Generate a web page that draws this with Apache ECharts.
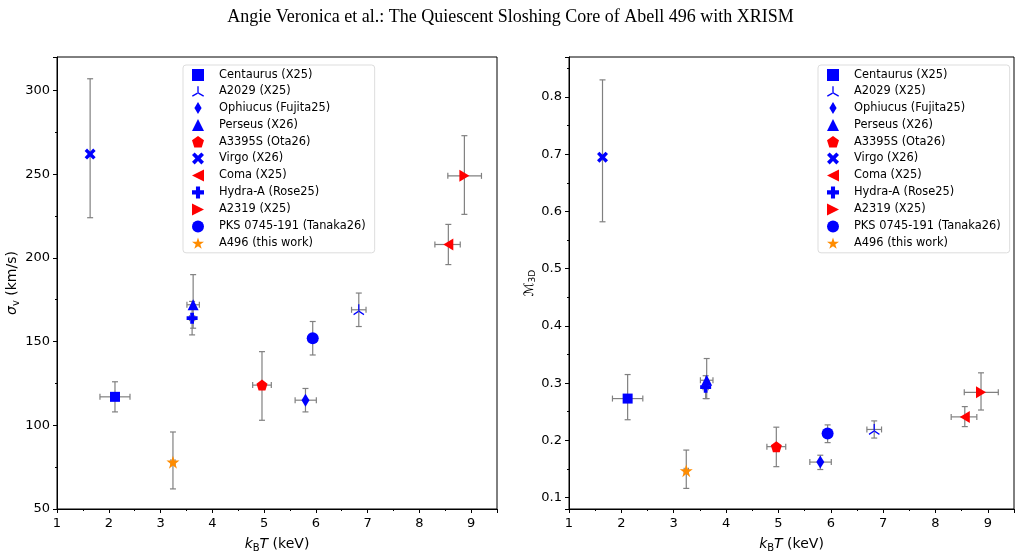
<!DOCTYPE html>
<html>
<head>
<meta charset="utf-8">
<script src="https://cdn.jsdelivr.net/npm/echarts@6/dist/echarts.min.js"></script>
<style>
  html, body { margin: 0; padding: 0; background: #fff; }
  #chart { width: 1021px; height: 555px; }
</style>
</head>
<body>
<div id="chart"></div>
<script>
// cluster labels and marker styles
const names = ['Centaurus (X25)', 'A2029 (X25)', 'Ophiucus (Fujita25)', 'Perseus (X26)', 'A3395S (Ota26)',
  'Virgo (X26)', 'Coma (X25)', 'Hydra-A (Rose25)', 'A2319 (X25)', 'PKS 0745-191 (Tanaka26)', 'A496 (this work)']
const colors = ['#0000ff', '#0000ff', '#0000ff', '#0000ff', '#ff0000',
  '#0000ff', '#ff0000', '#0000ff', '#ff0000', '#0000ff', '#ff8c00']

// temperature (keV) with errors
const kT = [2.12, 6.83, 5.80, 3.63, 4.96, 1.64, 8.56, 3.61, 8.87, 5.94, 3.24]
const kTErrLo = [0.29, 0.14, 0.20, 0.12, 0.18, 0.02, 0.26, 0.05, 0.32, 0.05, 0.04]
const kTErrHi = [0.29, 0.14, 0.21, 0.12, 0.18, 0.02, 0.23, 0.05, 0.33, 0.05, 0.04]

// velocity dispersion (km/s)
const sigma = [117, 169, 115, 172, 124, 262, 208, 164, 249, 152, 78]
const sigmaErrLo = [9, 10, 7, 14, 21, 38, 12, 10, 23, 10, 16]
const sigmaErrHi = [9, 10, 7, 18, 20, 45, 12, 10, 24, 10, 18]

// 3D Mach number
const mach = [0.273, 0.219, 0.162, 0.305, 0.189, 0.695, 0.241, 0.293, 0.284, 0.212, 0.147]
const machErrLo = [0.037, 0.015, 0.013, 0.032, 0.035, 0.113, 0.017, 0.020, 0.031, 0.016, 0.031]
const machErrHi = [0.042, 0.015, 0.012, 0.038, 0.034, 0.135, 0.018, 0.020, 0.034, 0.015, 0.036]

const FONT = 'DejaVu Sans'
const ERR = '#808080'

const triUp = 'path://M45,0 L55,0 L55,50 L45,50 Z M52.5,54.3 L47.5,45.7 L4.2,70.7 L9.2,79.3 Z M47.5,54.3 L52.5,45.7 L95.8,70.7 L90.8,79.3 Z'
const symbols = [
  'rect',
  triUp,
  'path://M30,0 L60,50 L30,100 L0,50 Z',
  'triangle',
  'path://M50,0 L97.55,34.55 L79.39,90.45 L20.61,90.45 L2.45,34.55 Z',
  'path://M0,22 L22,0 L50,28 L78,0 L100,22 L72,50 L100,78 L78,100 L50,72 L22,100 L0,78 L28,50 Z',
  'path://M0,50 L100,0 L100,100 Z',
  'path://M33,0 L67,0 L67,33 L100,33 L100,67 L67,67 L67,100 L33,100 L33,67 L0,67 L0,33 L33,33 Z',
  'path://M100,50 L0,0 L0,100 Z',
  'circle',
  'path://M50,0 L61.23,34.55 L97.55,34.55 L68.17,55.9 L79.39,90.45 L50,69.1 L20.61,90.45 L31.83,55.9 L2.45,34.55 L38.77,34.55 Z'
]
const sizes = [10, 11, [8, 13], 11, 11, 11, [10, 12], 11, [10, 12], 12, 13]

let myChart = echarts.init(document.getElementById('chart'), null, { renderer: 'canvas' })

function errRows(y, yLo, yHi) {
  return kT.map((x, i) => [x, y[i], x - kTErrLo[i], x + kTErrHi[i], y[i] - yLo[i], y[i] + yHi[i]])
}

function renderErr(params, api) {
  const c = api.coord([api.value(0), api.value(1)])
  const xl = api.coord([api.value(2), api.value(1)])
  const xh = api.coord([api.value(3), api.value(1)])
  const yl = api.coord([api.value(0), api.value(4)])
  const yh = api.coord([api.value(0), api.value(5)])
  const cap = 3
  const st = { stroke: ERR, lineWidth: 1.2 }
  const L = (x1, y1, x2, y2) => ({ type: 'line', shape: { x1, y1, x2, y2 }, style: st })
  return {
    type: 'group',
    children: [
      L(xl[0], c[1], xh[0], c[1]),
      L(xl[0], c[1] - cap, xl[0], c[1] + cap),
      L(xh[0], c[1] - cap, xh[0], c[1] + cap),
      L(c[0], yl[1], c[0], yh[1]),
      L(c[0] - cap, yl[1], c[0] + cap, yl[1]),
      L(c[0] - cap, yh[1], c[0] + cap, yh[1])
    ]
  }
}

function xAxis(gi) {
  return {
    gridIndex: gi, type: 'value', min: 1, max: 9.5, interval: 1,
    name: '{i|k}{sub|B}{i|T} (keV)', nameLocation: 'middle', nameGap: 26,
    nameTextStyle: {
      fontFamily: FONT, fontSize: 14, color: '#000',
      rich: {
        i: { fontFamily: FONT, fontSize: 14, fontStyle: 'italic', color: '#000' },
        sub: { fontFamily: FONT, fontSize: 10, color: '#000', padding: [8, 0, 0, 0] }
      }
    },
    axisLine: { onZero: false, lineStyle: { color: '#000', width: 1 } },
    axisTick: { inside: false, length: 4, lineStyle: { color: '#000' } },
    minorTick: { show: true, splitNumber: 2, length: 2, lineStyle: { color: '#000' } },
    axisLabel: { fontFamily: FONT, fontSize: 13, color: '#000', margin: 8, showMaxLabel: false },
    splitLine: { show: false }
  }
}

const yAxisBase = {
  type: 'value',
  nameLocation: 'middle',
  axisLine: { onZero: false, lineStyle: { color: '#000', width: 1 } },
  axisTick: { inside: false, length: 4, lineStyle: { color: '#000' } },
  minorTick: { show: true, splitNumber: 2, length: 2, lineStyle: { color: '#000' } },
  splitLine: { show: false }
}

const legendBase = {
  orient: 'vertical',
  top: 65,
  padding: [4, 9, 4, 9],
  itemWidth: 12,
  itemHeight: 12,
  itemGap: 5,
  backgroundColor: 'rgba(255,255,255,0.8)',
  borderColor: '#dddddd',
  borderWidth: 1,
  borderRadius: 3,
  data: names,
  formatter: n => '{s|}' + n,
  textStyle: { fontFamily: FONT, fontSize: 11.4, color: '#000', rich: { s: { width: 10 } } }
}

let series = []
;[0, 1].forEach(gi => {
  const yv = gi === 0 ? sigma : mach
  series.push({
    type: 'custom',
    xAxisIndex: gi, yAxisIndex: gi,
    renderItem: renderErr,
    encode: { x: 0, y: 1 },
    data: gi === 0 ? errRows(sigma, sigmaErrLo, sigmaErrHi) : errRows(mach, machErrLo, machErrHi),
    z: 1, silent: true
  })
  names.forEach((n, i) => {
    series.push({
      name: n, type: 'scatter',
      xAxisIndex: gi, yAxisIndex: gi,
      symbol: symbols[i], symbolSize: sizes[i],
      itemStyle: { color: colors[i], opacity: 1 },
      data: [[kT[i], yv[i]]],
      z: 3
    })
  })
})

let option = {
  animation: false,
  backgroundColor: '#fff',
  title: {
    text: 'Angie Veronica et al.: The Quiescent Sloshing Core of Abell 496 with XRISM',
    left: 'center', top: 3,
    textStyle: { fontFamily: 'Liberation Serif', fontSize: 18, fontWeight: 'normal', color: '#000' }
  },
  legend: [
    Object.assign({}, legendBase, { left: 183 }),
    Object.assign({}, legendBase, { left: 818 })
  ],
  grid: [
    { left: 57, right: 524, top: 57, bottom: 46, show: true, borderColor: '#000', borderWidth: 1, outerBoundsMode: 'none' },
    { left: 569, right: 7, top: 57, bottom: 46, show: true, borderColor: '#000', borderWidth: 1, outerBoundsMode: 'none' }
  ],
  xAxis: [xAxis(0), xAxis(1)],
  yAxis: [
    Object.assign({}, yAxisBase, {
      gridIndex: 0, min: 50, max: 320, interval: 50,
      name: '{i|σ}{sub|v} (km/s)', nameGap: 28,
      nameTextStyle: {
        fontFamily: FONT, fontSize: 14, color: '#000',
        rich: {
          i: { fontFamily: FONT, fontSize: 14, fontStyle: 'italic', color: '#000' },
          sub: { fontFamily: FONT, fontSize: 10, color: '#000', padding: [8, 0, 0, 0] }
        }
      },
      axisLabel: { fontFamily: FONT, fontSize: 13, color: '#000', margin: 7, showMaxLabel: false }
    }),
    Object.assign({}, yAxisBase, {
      gridIndex: 1, min: 0.08, max: 0.87, splitNumber: 8,
      name: '{i|ℳ}{sub|3D}', nameGap: 29,
      nameTextStyle: {
        fontFamily: FONT, fontSize: 13, color: '#000',
        rich: {
          i: { fontFamily: FONT, fontSize: 13, fontStyle: 'italic', color: '#000' },
          sub: { fontFamily: FONT, fontSize: 9, color: '#000', padding: [7, 0, 0, 0] }
        }
      },
      axisLabel: { fontFamily: FONT, fontSize: 13, color: '#000', margin: 7, showMinLabel: false, showMaxLabel: false }
    })
  ],
  series: series
}

myChart.setOption(option)
</script>
</body>
</html>
